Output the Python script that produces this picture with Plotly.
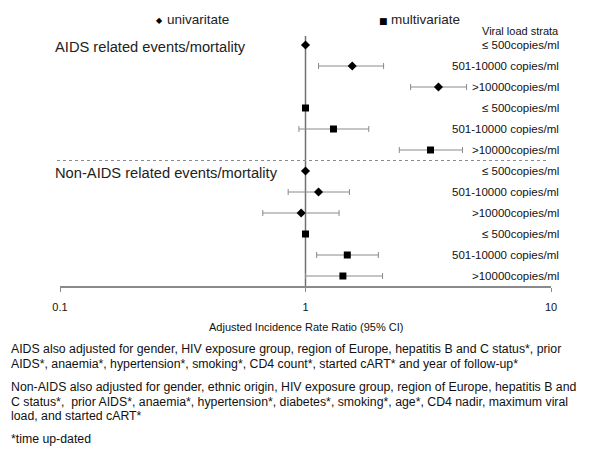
import math
import plotly.graph_objects as go

# ---------------- data ----------------
strata = ["≤ 500copies/ml", "501-10000 copies/ml", ">10000copies/ml"]

aids_uni_irr = [1.0, 1.55, 3.48]
aids_uni_lo = [1.0, 1.13, 2.68]
aids_uni_hi = [1.0, 2.08, 4.53]

aids_multi_irr = [1.0, 1.30, 3.23]
aids_multi_lo = [1.0, 0.94, 2.41]
aids_multi_hi = [1.0, 1.81, 4.36]

non_uni_irr = [1.0, 1.13, 0.96]
non_uni_lo = [1.0, 0.85, 0.67]
non_uni_hi = [1.0, 1.51, 1.37]

non_multi_irr = [1.0, 1.48, 1.42]
non_multi_lo = [1.0, 1.11, 1.00]
non_multi_hi = [1.0, 1.98, 2.06]

tick_vals = [0.1, 1, 10]
tick_text = ["0.1", "1", "10"]

section_titles = ["AIDS related events/mortality", "Non-AIDS related events/mortality"]
x_title = "Adjusted Incidence Rate Ratio (95% CI)"
footnotes = [
    "AIDS also adjusted for gender, HIV exposure group, region of Europe, hepatitis B and C status*, prior",
    "AIDS*, anaemia*, hypertension*, smoking*, CD4 count*, started cART* and year of follow-up*",
    "Non-AIDS also adjusted for gender, ethnic origin, HIV exposure group, region of Europe, hepatitis B and",
    "C status*,  prior AIDS*, anaemia*, hypertension*, diabetes*, smoking*, age*, CD4 nadir, maximum viral",
    "load, and started cART*",
    "*time up-dated",
]

# ---------------- layout geometry (page pixels) ----------------
PAGE_W, PAGE_H = 600, 452
OFF = 8                  # default body margin of the html page
W, H = PAGE_W - OFF, PAGE_H - OFF
L, R = 60, 551           # plot area x (page pixels)
T, B = 36, 286           # plot area y (page pixels)
ROW0, ROWSTEP = 45, 21   # page pixel of first row, spacing

FONT = "Liberation Sans, Arial, sans-serif"


def py2paper(py):
    return (B - py) / (B - T)


def px2paper(px):
    return (px - L) / (R - L)


y_top = (T - ROW0) / ROWSTEP
y_bot = (B - ROW0) / ROWSTEP

groups = [
    (aids_uni_irr, aids_uni_lo, aids_uni_hi, "diamond", 7),
    (aids_multi_irr, aids_multi_lo, aids_multi_hi, "square", 7),
    (non_uni_irr, non_uni_lo, non_uni_hi, "diamond", 7),
    (non_multi_irr, non_multi_lo, non_multi_hi, "square", 7),
]

fig = go.Figure()

row_labels = []
for g, (irr, lo, hi, sym, size) in enumerate(groups):
    ys = [g * len(strata) + i for i in range(len(strata))]
    fig.add_trace(go.Scatter(
        x=irr, y=ys, mode="markers",
        marker=dict(symbol=sym, size=size, color="black"),
        error_x=dict(type="data", symmetric=False,
                     array=[h - v for h, v in zip(hi, irr)],
                     arrayminus=[v - l for v, l in zip(irr, lo)],
                     color="#8a8a8a", thickness=1, width=3),
        showlegend=False, hoverinfo="x",
    ))
    for yv, lab in zip(ys, strata):
        row_labels.append((yv, lab))

annotations = []
for yv, lab in row_labels:
    annotations.append(dict(x=px2paper(561), xref="paper", y=yv, yref="y",
                            text=lab, showarrow=False, xanchor="right", yanchor="middle",
                            font=dict(family=FONT, size=11.5, color="#111")))

annotations.append(dict(x=px2paper(561), xref="paper", y=py2paper(31), yref="paper",
                        text="Viral load strata", showarrow=False, xanchor="right",
                        yanchor="middle", font=dict(family=FONT, size=11, color="#111")))

# section titles
for py, txt in zip([47, 173], section_titles):
    annotations.append(dict(x=px2paper(53), xref="paper", y=py2paper(py), yref="paper",
                            text=txt, showarrow=False, xanchor="left", yanchor="middle",
                            font=dict(family=FONT, size=14.7, color="#222")))

# legend (symbol + label)
for sx, glyph, gsize, label in [(159, "◆", 8, "univaritate"), (383, "■", 9, "multivariate")]:
    annotations.append(dict(x=px2paper(sx), xref="paper", y=py2paper(21), yref="paper",
                            text=glyph, showarrow=False, xanchor="center", yanchor="middle",
                            font=dict(family="DejaVu Sans", size=gsize, color="black")))
    annotations.append(dict(x=px2paper(sx + 6), xref="paper", y=py2paper(20), yref="paper",
                            text=label, showarrow=False, xanchor="left", yanchor="middle",
                            font=dict(family=FONT, size=13.5, color="#222")))

# x-axis title (x in log10 units on a log axis)
annotations.append(dict(x=math.log10(tick_vals[1]), xref="x", y=py2paper(327), yref="paper",
                        text=x_title, showarrow=False, xanchor="center", yanchor="middle",
                        font=dict(family=FONT, size=11, color="#111")))

# footnotes
for py, txt in zip([349, 364, 387, 402, 416, 439], footnotes):
    annotations.append(dict(x=px2paper(9), xref="paper", y=py2paper(py), yref="paper",
                            text=txt, showarrow=False, xanchor="left", yanchor="middle",
                            font=dict(family=FONT, size=12.3, color="#111")))

shapes = [
    # vertical reference line at IRR = 1
    dict(type="line", xref="x", yref="paper", x0=1, x1=1, y0=0, y1=1,
         line=dict(color="#707070", width=1.5), layer="below"),
    # dotted separator
    dict(type="line", xref="paper", yref="y", x0=px2paper(57), x1=px2paper(549),
         y0=5.5, y1=5.5, line=dict(color="#8a8a8a", width=1, dash="dot")),
]

fig.update_layout(
    width=W, height=H,
    margin=dict(l=L - OFF, r=PAGE_W - R, t=T - OFF, b=PAGE_H - B, pad=0),
    paper_bgcolor="white", plot_bgcolor="white",
    xaxis=dict(type="log", range=[-1, 1], tickvals=tick_vals, ticktext=tick_text,
               showgrid=False, zeroline=False, showline=True, linecolor="#8a8a8a",
               linewidth=2, ticks="outside", ticklen=4, tickcolor="#8a8a8a",
               tickwidth=1, ticklabelstandoff=6,
               tickfont=dict(family=FONT, size=11, color="#111"), fixedrange=True),
    yaxis=dict(range=[y_bot, y_top], showgrid=False, zeroline=False, showline=False,
               showticklabels=False, ticks="", fixedrange=True),
    shapes=shapes, annotations=annotations, showlegend=False,
)

fig.write_html("out.html")
